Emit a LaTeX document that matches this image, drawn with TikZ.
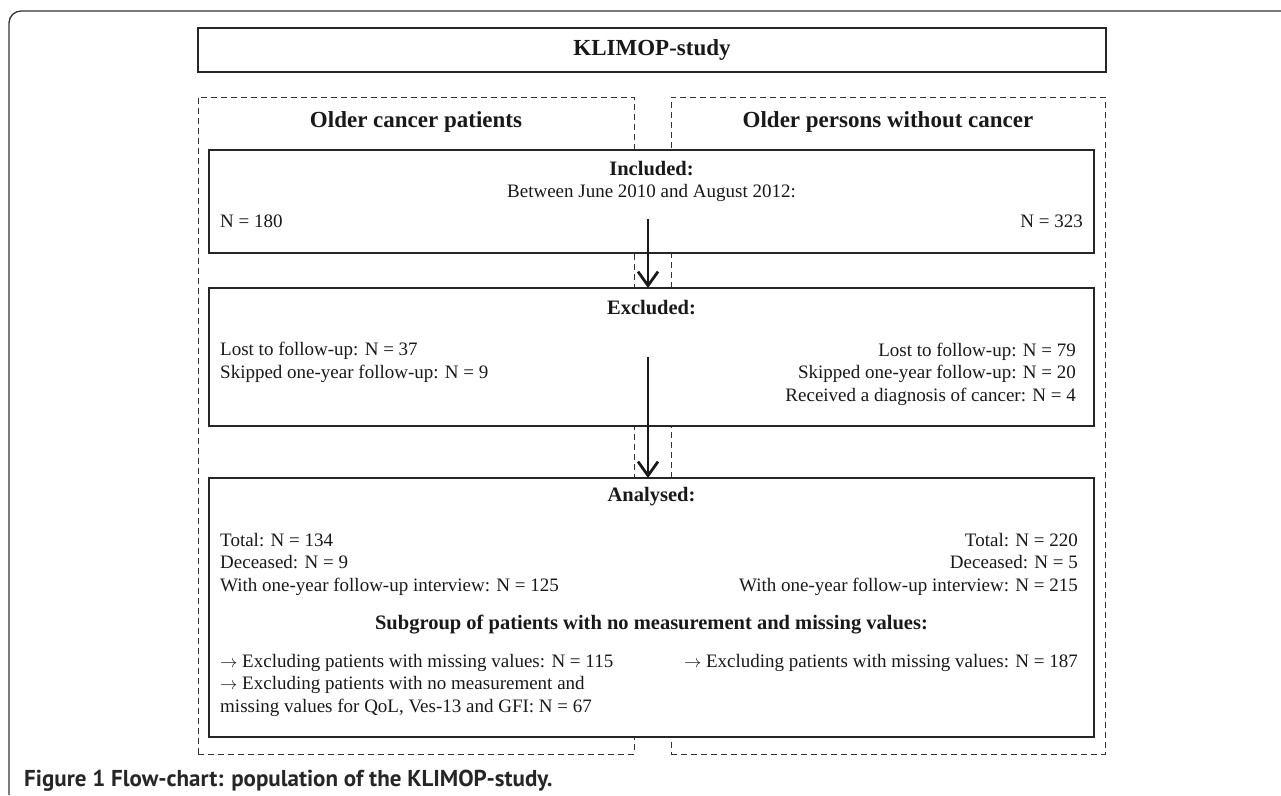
\documentclass[tikz,border=0pt]{standalone}
\usepackage{fontspec}
\setmainfont{Liberation Serif}
\newfontfamily\capfont{PT Sans}
\usetikzlibrary{arrows.meta}
\newcommand{\rarr}{$\rightarrow$}
\begin{document}
\begin{tikzpicture}[x=1pt,y=-1pt,
  box/.style={draw=black!85, line width=1.4pt, inner sep=0pt, outer sep=0pt},
  dashbox/.style={draw=black!80, line width=0.9pt, dash pattern=on 6pt off 4pt, inner sep=0pt, outer sep=0pt},
  body/.style={font=\fontsize{19}{22.5}\selectfont, inner sep=0pt, text=black!90},
  head/.style={font=\fontsize{20.5}{24}\selectfont\bfseries, inner sep=0pt, text=black!90},
  title/.style={font=\fontsize{23}{27}\selectfont\bfseries, inner sep=0pt, text=black!90},
  flow/.style={line width=1.8pt, draw=black!90, -{Straight Barb[length=14pt,width=20pt,line width=2.8pt]}}
]
\useasboundingbox (0,0) rectangle (1281,795);
% outer frame
\draw[line width=1.3pt, draw=black!80, rounded corners=12pt] (9,795) -- (9,11) -- (1281,11);
% top box
\node[box, minimum width=908pt, minimum height=44pt] (klimop) at (652,50) {};
\node[title] (klimopt) at (652,50) {KLIMOP-study};
% dashed columns
\node[dashbox, minimum width=436pt, minimum height=657pt] (colL) at (416,425.5) {};
\node[dashbox, minimum width=434pt, minimum height=657pt] (colR) at (888,425.5) {};
\node[title] (colLt) at (416,122) {Older cancer patients};
\node[title] (colRt) at (888,122) {Older persons without cancer};
% included
\node[box, fill=white, minimum width=885pt, minimum height=103pt] (incl) at (651.5,201.5) {};
\node[head] (inclt) at (651.5,169) {Included:};
\node[body] (incld) at (651.5,193) {Between June 2010 and August 2012:};
\node[body, anchor=west] (inclL) at (220,221) {N = 180};
\node[body, anchor=east] (inclR) at (1083,221) {N = 323};
% excluded
\node[box, fill=white, minimum width=885pt, minimum height=138pt] (excl) at (651.5,357) {};
\node[head] (exclt) at (651.5,308) {Excluded:};
\node[body, anchor=west, align=left] (exclL) at (220,362.5) {Lost to follow-up: N = 37\\Skipped one-year follow-up: N = 9};
\node[body, anchor=east, align=right] (exclR) at (1076,374) {Lost to follow-up: N = 79\\Skipped one-year follow-up: N = 20\\Received a diagnosis of cancer: N = 4};
% analysed
\node[box, fill=white, minimum width=885pt, minimum height=259pt] (anal) at (651.5,607.5) {};
\node[head] (analt) at (651.5,497) {Analysed:};
\node[body, anchor=west, align=left] (analL) at (220,564) {Total: N = 134\\Deceased: N = 9\\With one-year follow-up interview: N = 125};
\node[body, anchor=east, align=right] (analR) at (1078,564) {Total: N = 220\\Deceased: N = 5\\With one-year follow-up interview: N = 215};
\node[head] (subt) at (651.5,625) {Subgroup of patients with no measurement and missing values:};
\node[body, anchor=west, align=left] (subL) at (220,685) {\rarr{} Excluding patients with missing values: N = 115\\\rarr{} Excluding patients with no measurement and\\missing values for QoL, Ves-13 and GFI: N = 67};
\node[body, anchor=east] (subR) at (1078,663) {\rarr{} Excluding patients with missing values: N = 187};
% arrows
\coordinate (a1) at (648,219);
\coordinate (a2) at (648,357);
\draw[flow] (a1) -- (a1 |- excl.north);
\draw[flow] (a2) -- (a2 |- anal.north);
% caption
\node[anchor=west, inner sep=0pt, font=\capfont\fontsize{23}{27}\selectfont\bfseries, text=black!85] (cap) at (24,781) {Figure 1 Flow-chart: population of the KLIMOP-study.};
\end{tikzpicture}
\end{document}
